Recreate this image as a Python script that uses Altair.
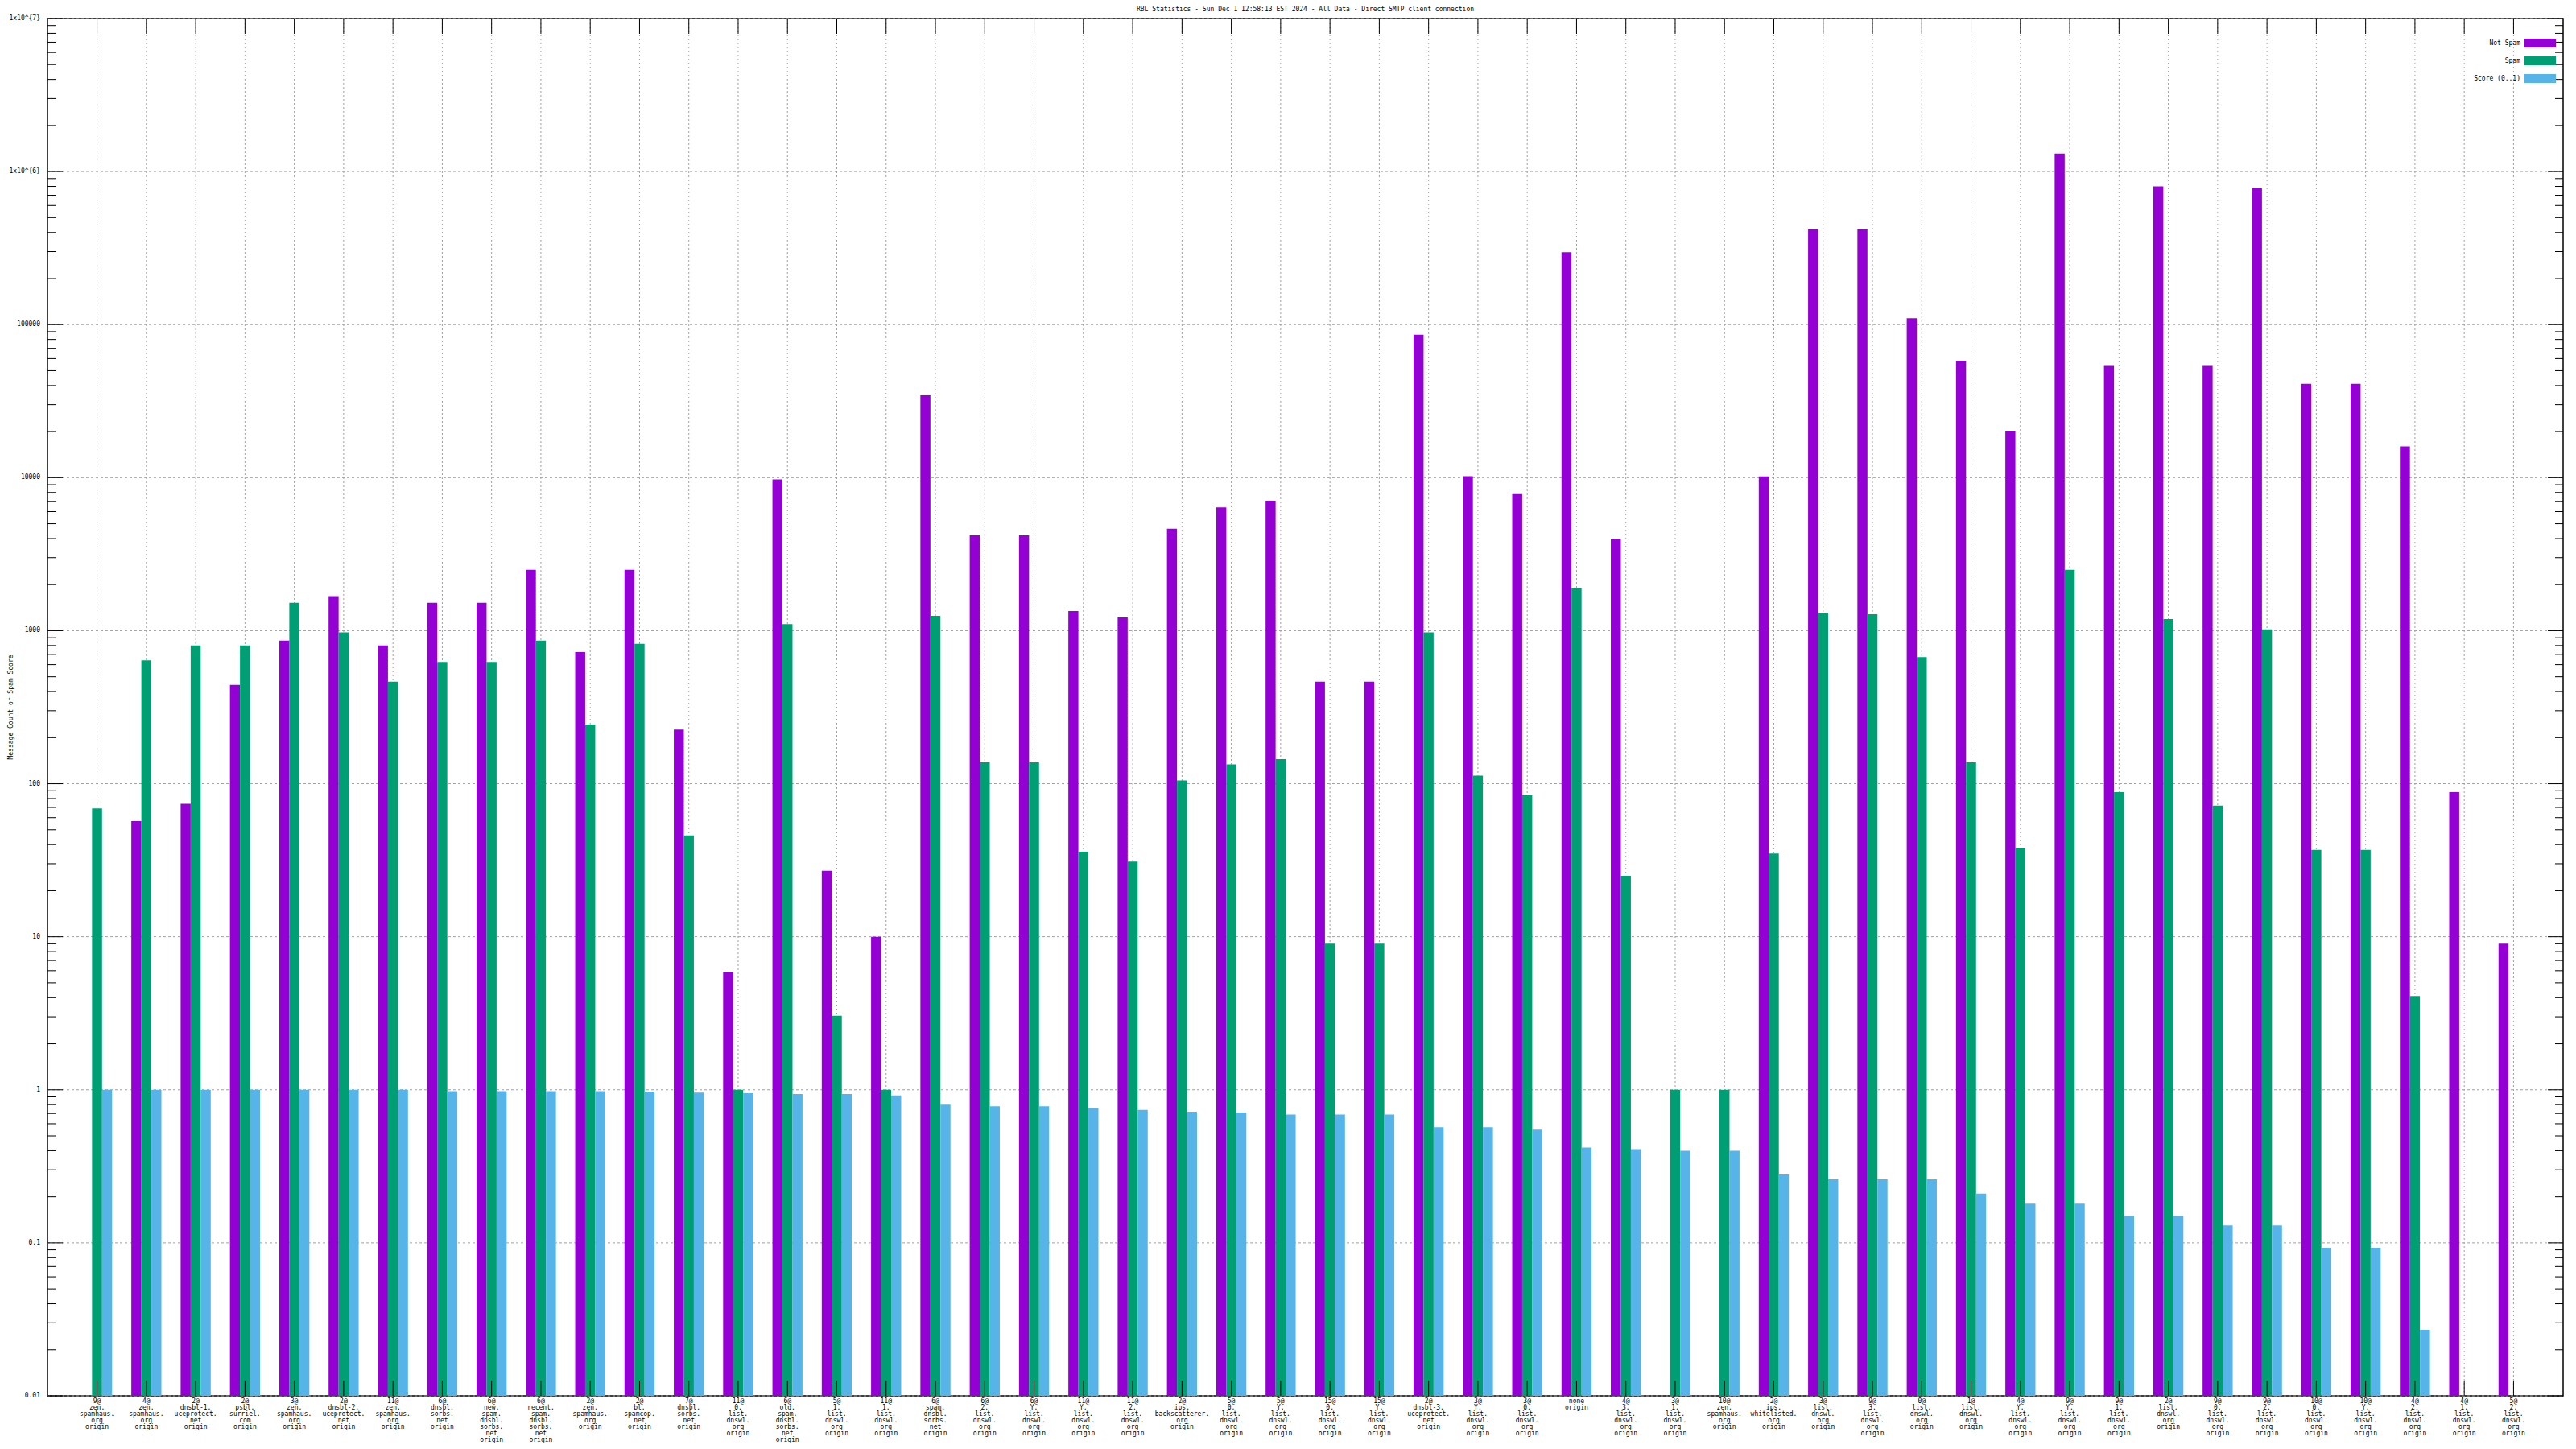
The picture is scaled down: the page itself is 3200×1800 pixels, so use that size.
import altair as alt
import pandas as pd

categories = [
    "9@|zen.|spamhaus.|org|origin",
    "4@|zen.|spamhaus.|org|origin",
    "2@|dnsbl-1.|uceprotect.|net|origin",
    "2@|psbl.|surriel.|com|origin",
    "3@|zen.|spamhaus.|org|origin",
    "2@|dnsbl-2.|uceprotect.|net|origin",
    "11@|zen.|spamhaus.|org|origin",
    "6@|dnsbl.|sorbs.|net|origin",
    "6@|new.|spam.|dnsbl.|sorbs.|net|origin",
    "6@|recent.|spam.|dnsbl.|sorbs.|net|origin",
    "2@|zen.|spamhaus.|org|origin",
    "2@|bl.|spamcop.|net|origin",
    "7@|dnsbl.|sorbs.|net|origin",
    "11@|0.|list.|dnswl.|org|origin",
    "6@|old.|spam.|dnsbl.|sorbs.|net|origin",
    "5@|1.|list.|dnswl.|org|origin",
    "11@|1.|list.|dnswl.|org|origin",
    "6@|spam.|dnsbl.|sorbs.|net|origin",
    "6@|2.|list.|dnswl.|org|origin",
    "6@|Y.|list.|dnswl.|org|origin",
    "11@|Y.|list.|dnswl.|org|origin",
    "11@|2.|list.|dnswl.|org|origin",
    "2@|ips.|backscatterer.|org|origin",
    "5@|0.|list.|dnswl.|org|origin",
    "5@|Y.|list.|dnswl.|org|origin",
    "15@|0.|list.|dnswl.|org|origin",
    "15@|Y.|list.|dnswl.|org|origin",
    "2@|dnsbl-3.|uceprotect.|net|origin",
    "3@|Y.|list.|dnswl.|org|origin",
    "3@|0.|list.|dnswl.|org|origin",
    "none|origin",
    "4@|3.|list.|dnswl.|org|origin",
    "3@|1.|list.|dnswl.|org|origin",
    "10@|zen.|spamhaus.|org|origin",
    "2@|ips.|whitelisted.|org|origin",
    "3@|list.|dnswl.|org|origin",
    "9@|3.|list.|dnswl.|org|origin",
    "0@|list.|dnswl.|org|origin",
    "1@|list.|dnswl.|org|origin",
    "4@|Y.|list.|dnswl.|org|origin",
    "9@|Y.|list.|dnswl.|org|origin",
    "9@|1.|list.|dnswl.|org|origin",
    "2@|list.|dnswl.|org|origin",
    "9@|0.|list.|dnswl.|org|origin",
    "9@|2.|list.|dnswl.|org|origin",
    "10@|0.|list.|dnswl.|org|origin",
    "10@|Y.|list.|dnswl.|org|origin",
    "4@|2.|list.|dnswl.|org|origin",
    "4@|1.|list.|dnswl.|org|origin",
    "5@|2.|list.|dnswl.|org|origin",
]

series = ["Not Spam", "Spam", "Score (0..1)"]
colors = ["#9400D3", "#009E73", "#56B4E9"]

not_spam = [None, 57, 74, 442, 862, 1682, 800, 1523, 1523, 2500,
            725, 2500, 226, 5.9, 9750, 27, 10, 34500, 4200, 4200,
            1345, 1220, 4640, 6400, 7070, 464, 464, 86000, 10240, 7800,
            297000, 4000, None, None, 10200, 420000, 420000, 110000, 58000, 20000,
            1310000, 53800, 800000, 53800, 780000, 41000, 41000, 16000, 88, 9]

spam = [69, 640, 800, 800, 1523, 975, 464, 625, 625, 862,
        244, 820, 46, 1, 1105, 3.05, 1, 1250, 138, 138,
        36, 31, 105, 134, 145, 9, 9, 975, 113, 84,
        1900, 25, 1, 1, 35, 1310, 1280, 673, 138, 38,
        2500, 88, 1190, 72, 1020, 37, 37, 4.1, None, None]

score = [1, 1, 1, 1, 1, 1, 1, 0.98, 0.98, 0.98,
         0.98, 0.97, 0.96, 0.95, 0.94, 0.94, 0.92, 0.80, 0.78, 0.78,
         0.76, 0.74, 0.72, 0.71, 0.69, 0.69, 0.69, 0.57, 0.57, 0.55,
         0.42, 0.41, 0.40, 0.40, 0.28, 0.26, 0.26, 0.26, 0.21, 0.18,
         0.18, 0.15, 0.15, 0.13, 0.13, 0.093, 0.093, 0.027, None, None]

y_tick_values = [0.01, 0.1, 1, 10, 100, 1000, 10000, 100000, 1e6, 1e7]
y_tick_labels = ["0.01", "0.1", "1", "10", "100", "1000", "10000", "100000",
                 "1x10^{6}", "1x10^{7}"]
minor_multipliers = [2, 3, 4, 5, 6, 7, 8, 9]

title_text = "RBL Statistics - Sun Dec  1 12:58:13 EST 2024 - All Data - Direct SMTP client connection"
y_title = "Message Count or Spam Score"

# ---------------------------------------------------------------
rows = []
for i, c in enumerate(categories):
    for s, vals in zip(series, [not_spam, spam, score]):
        if vals[i] is not None:
            rows.append({"cat": c, "series": s, "value": float(vals[i])})
df = pd.DataFrame(rows)
cat_df = pd.DataFrame({"cat": categories})
major_df = pd.DataFrame({"v": y_tick_values, "label": y_tick_labels})
minor_df = pd.DataFrame({"v": [m * d for d in y_tick_values[:-1] for m in minor_multipliers]})

W, H = 3125, 1711
FONT = "DejaVu Sans Mono"
FS = 8
GRID = "#a0a0a0"

x_scale = alt.Scale(domain=categories, paddingInner=0.39, paddingOuter=0.7)
y_scale = alt.Scale(type="log", domain=[0.01, 1e7], nice=False)

x_plain = alt.X("cat:N", scale=x_scale, axis=None)
y_plain = alt.Y("v:Q", scale=y_scale, axis=None)

# grid
hgrid = alt.Chart(major_df).mark_rule(color=GRID, strokeDash=[3, 3], strokeWidth=1).encode(
    y=y_plain, x=alt.value(0), x2=alt.value(W))
vgrid = alt.Chart(cat_df).mark_rule(color=GRID, strokeDash=[2, 3], strokeWidth=1).encode(
    x=x_plain, y=alt.value(0), y2=alt.value(H))

bars = alt.Chart(df).mark_bar().encode(
    x=x_plain,
    xOffset=alt.XOffset("series:N", scale=alt.Scale(domain=series)),
    y=alt.Y("value:Q", scale=y_scale, axis=None),
    y2=alt.datum(0.01),
    color=alt.Color("series:N", scale=alt.Scale(domain=series, range=colors), legend=None),
)

tick_layers = []
for d, ln in [(major_df, 19), (minor_df, 10)]:
    tick_layers.append(alt.Chart(d).mark_rule(color="black", strokeWidth=1).encode(
        y=y_plain, x=alt.value(0), x2=alt.value(ln)))
    tick_layers.append(alt.Chart(d).mark_rule(color="black", strokeWidth=1).encode(
        y=y_plain, x=alt.value(W - ln), x2=alt.value(W)))
for y0, y1 in [(0, 19), (H - 19, H)]:
    tick_layers.append(alt.Chart(cat_df).mark_rule(color="black", strokeWidth=1).encode(
        x=x_plain, y=alt.value(y0), y2=alt.value(y1)))

# axis labels, titles as text marks
ylabels = alt.Chart(major_df).mark_text(align="right", baseline="middle", font=FONT,
                                        fontSize=FS, color="black").encode(
    y=y_plain, x=alt.value(-9), text="label:N")
xlabels = alt.Chart(cat_df).mark_text(align="center", baseline="top", font=FONT, fontSize=FS,
                                      lineBreak="|", lineHeight=8.0, color="black").encode(
    x=x_plain, y=alt.value(H + 3), text="cat:N")
ytitle = alt.Chart(pd.DataFrame({"t": [y_title]})).mark_text(
    angle=270, align="center", baseline="middle", font=FONT, fontSize=FS, color="black").encode(
    x=alt.value(-45), y=alt.value(H / 2), text="t:N")
title = alt.Chart(pd.DataFrame({"t": [title_text]})).mark_text(
    align="center", baseline="middle", font=FONT, fontSize=FS, color="black").encode(
    x=alt.value(W / 2), y=alt.value(-11), text="t:N")

legend_layers = []
for i, s in enumerate(series):
    ldf = pd.DataFrame({"s": [s]})
    yc = 30.5 + 22 * i
    legend_layers.append(alt.Chart(ldf).mark_rect(color=colors[i]).encode(
        x=alt.value(W - 48), x2=alt.value(W - 9), y=alt.value(yc - 5.5), y2=alt.value(yc + 5.5)))
    legend_layers.append(alt.Chart(ldf).mark_text(align="right", baseline="middle", font=FONT,
                                                  fontSize=FS, color="black").encode(
        text="s:N", x=alt.value(W - 53), y=alt.value(yc)))

chart = alt.layer(hgrid, vgrid, bars, *tick_layers, ylabels, xlabels, ytitle, title,
                  *legend_layers).properties(
    width=W, height=H,
    padding={"left": 51, "top": 15, "right": 8, "bottom": 58},
    autosize=alt.AutoSizeParams(type="none"),
    background="white",
).configure_view(stroke="black", strokeWidth=1.5).configure_scale(
    offsetBandPaddingInner=0, offsetBandPaddingOuter=0)

chart.save("out.html", embed_options={"renderer": "svg", "actions": False})
